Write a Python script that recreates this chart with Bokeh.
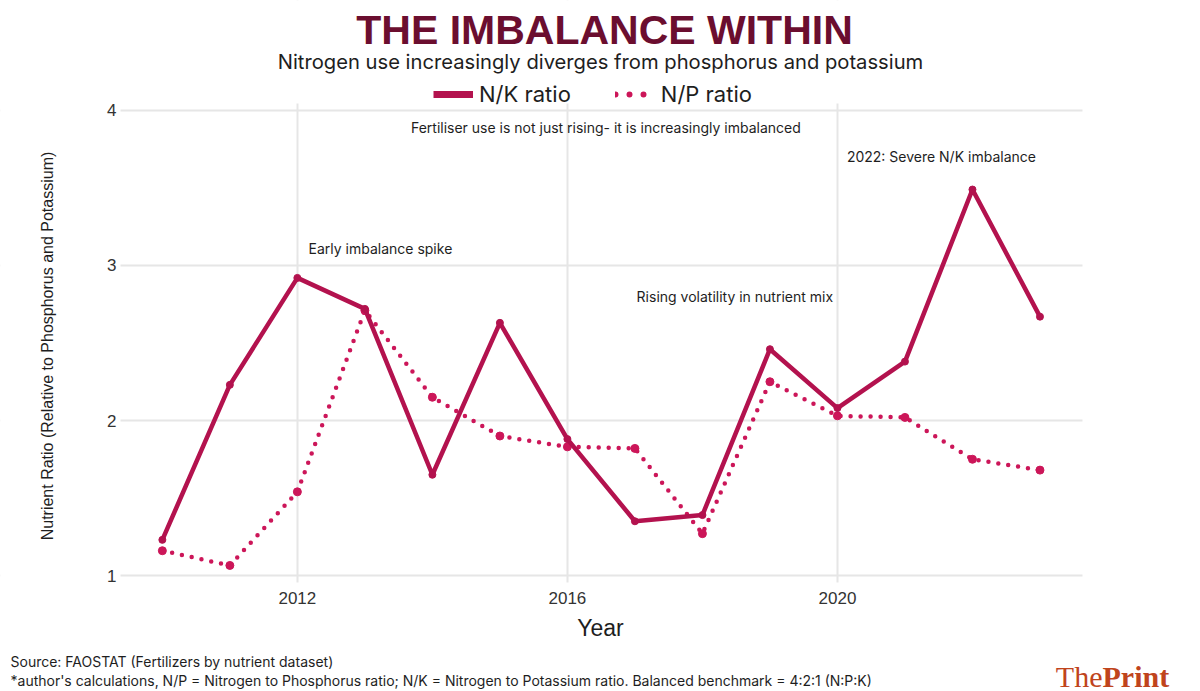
from bokeh.plotting import figure
from bokeh.models import (ColumnDataSource, Label, Legend, LegendItem, FixedTicker, Range1d,
                          BoxAnnotation)
from bokeh.embed import file_html
from bokeh.resources import INLINE

# ---------------- data ----------------
years = [2010, 2011, 2012, 2013, 2014, 2015, 2016, 2017, 2018, 2019, 2020, 2021, 2022, 2023]
nk_ratio = [1.23, 2.23, 2.92, 2.72, 1.65, 2.63, 1.88, 1.35, 1.39, 2.46, 2.08, 2.38, 3.49, 2.67]
np_ratio = [1.16, 1.065, 1.54, 2.71, 2.15, 1.90, 1.83, 1.82, 1.27, 2.25, 2.03, 2.02, 1.75, 1.68]
x_ticks = [2012, 2016, 2020]
y_ticks = [1, 2, 3, 4]
series_labels = ["N/K ratio", "N/P ratio"]

title_text = "THE IMBALANCE WITHIN"
subtitle_text = "Nitrogen use increasingly diverges from phosphorus and potassium"
notes = [
    ("Fertiliser use is not just rising- it is increasingly imbalanced", 2016.57, 3.89),
    ("2022: Severe N/K imbalance", 2021.54, 3.70),
    ("Early imbalance spike", 2013.23, 3.11),
    ("Rising volatility in nutrient mix", 2018.48, 2.80),
]
source_lines = [
    "Source: FAOSTAT (Fertilizers by nutrient dataset)",
    "*author's calculations, N/P = Nitrogen to Phosphorus ratio; N/K = Nitrogen to Potassium ratio. Balanced benchmark = 4:2:1 (N:P:K)",
]

# plotting-area extent (data units) inside the full-canvas frame
X_LO, X_HI = 2009.38, 2023.63
Y_LO, Y_HI = 0.955, 4.045

NK_COLOR = "#b3124e"
NP_COLOR = "#cc1659"
TITLE_COLOR = "#6b0e2f"
LOGO_COLOR = "#c0441c"
TEXT = "#1e1e1e"
SANS = "Liberation Sans"
INTER = "Inter"
W, H = 1200, 691

# frame covers the whole canvas; the chart area sits at x 120..1082, y 103..582 px
px_per_year = 962 / (X_HI - X_LO)
px_per_unit = 479 / (Y_HI - Y_LO)
x_range = Range1d(X_LO - 120 / px_per_year, X_HI + 118 / px_per_year)
y_range = Range1d(Y_LO - 109 / px_per_unit, Y_HI + 103 / px_per_unit)

src = ColumnDataSource(data=dict(year=years, nk=nk_ratio, np=np_ratio))

p = figure(width=W, height=H, output_backend="svg", toolbar_location=None,
           x_range=x_range, y_range=y_range, min_border=0)
p.outline_line_color = None
p.background_fill_color = "white"
p.border_fill_color = "white"

p.xgrid.ticker = FixedTicker(ticks=x_ticks)
p.ygrid.ticker = FixedTicker(ticks=y_ticks)
for g in (p.xgrid, p.ygrid):
    g.grid_line_color = "#e6e6e6"
    g.grid_line_width = 2

# white masks so the grid only spans the chart area
for kw in (dict(bottom=Y_HI), dict(top=Y_LO),
           dict(right=X_LO, bottom=Y_LO, top=Y_HI), dict(left=X_HI, bottom=Y_LO, top=Y_HI)):
    p.add_layout(BoxAnnotation(fill_color="white", fill_alpha=1.0, line_color=None,
                               level="underlay", **kw))

p.xaxis.fixed_location = Y_LO
p.yaxis.fixed_location = X_LO
p.xaxis.ticker = FixedTicker(ticks=x_ticks)
p.yaxis.ticker = FixedTicker(ticks=y_ticks)
for ax in (p.xaxis, p.yaxis):
    ax.axis_line_color = None
    ax.major_tick_line_color = None
    ax.minor_tick_line_color = None
    ax.major_tick_out = 0
    ax.major_tick_in = 0
    ax.major_label_text_font = SANS
    ax.major_label_text_font_size = "17px"
    ax.major_label_text_color = "#333333"
    ax.axis_label_text_font_style = "normal"
    ax.axis_label_text_color = TEXT
p.xaxis.major_label_standoff = 9
p.yaxis.major_label_standoff = 4
p.xaxis.axis_label = "Year"
p.xaxis.axis_label_text_font = SANS
p.xaxis.axis_label_text_font_size = "23px"
p.xaxis.axis_label_standoff = 8
p.yaxis.axis_label = "Nutrient Ratio (Relative to Phosphorus and Potassium)"
p.yaxis.axis_label_text_font = SANS
p.yaxis.axis_label_text_font_size = "16px"
p.yaxis.axis_label_standoff = 48

p.line("year", "np", source=src, line_color=NP_COLOR, line_width=4.5,
       line_dash="0 10", line_cap="round")
p.scatter("year", "np", source=src, size=8, fill_color=NP_COLOR, line_color=NP_COLOR)
p.line("year", "nk", source=src, line_color=NK_COLOR, line_width=4.5, line_join="round")
p.scatter("year", "nk", source=src, size=7, fill_color=NK_COLOR, line_color=NK_COLOR)

# legend swatches: hidden copies of the series with the legend's own styling
lg_nk = p.line("year", "nk", source=src, line_color=NK_COLOR, line_width=7, visible=False)
lg_np = p.line("year", "np", source=src, line_color=NP_COLOR, line_width=6,
               line_dash="0 14", line_cap="round", visible=False)
legend = Legend(items=[LegendItem(label=series_labels[0], renderers=[lg_nk]),
                       LegendItem(label=series_labels[1], renderers=[lg_np])],
                location=(433, H - 107), orientation="horizontal",
                border_line_color=None, background_fill_alpha=0,
                padding=0, margin=0, spacing=44, glyph_width=40, glyph_height=20,
                label_standoff=6, label_text_font=INTER, label_text_font_size="22px",
                label_text_color=TEXT, click_policy="none")
p.add_layout(legend)

for txt, nx, ny in notes:
    p.add_layout(Label(x=nx, y=ny, text=txt, text_align="center", text_baseline="middle",
                       text_font=INTER, text_font_size="14px", text_color=TEXT))


def screen_label(x, top, text, **kw):
    """Label positioned in canvas pixels measured from the top-left corner."""
    p.add_layout(Label(x=x, y=H - top, x_units="screen", y_units="screen", text=text, **kw))


screen_label(604, 29, title_text, text_align="center", text_baseline="middle",
             text_font=SANS, text_font_style="bold", text_font_size="41px",
             text_color=TITLE_COLOR)
screen_label(600, 61, subtitle_text, text_align="center", text_baseline="middle",
             text_font=INTER, text_font_size="20.2px", text_color=TEXT)
screen_label(10, 661, source_lines[0], text_align="left", text_baseline="middle",
             text_font=INTER, text_font_size="14px", text_color=TEXT)
screen_label(10, 680, source_lines[1], text_align="left", text_baseline="middle",
             text_font=INTER, text_font_size="14px", text_color=TEXT)
screen_label(1102, 676, "The", text_align="right", text_baseline="alphabetic",
             text_font="Liberation Serif", text_font_size="30px", text_color=LOGO_COLOR)
screen_label(1102, 676, "Print", text_align="left", text_baseline="alphabetic",
             text_font="Liberation Serif", text_font_style="bold", text_font_size="30px",
             text_color=LOGO_COLOR)

open("out.html", "w").write(file_html(p, INLINE))
